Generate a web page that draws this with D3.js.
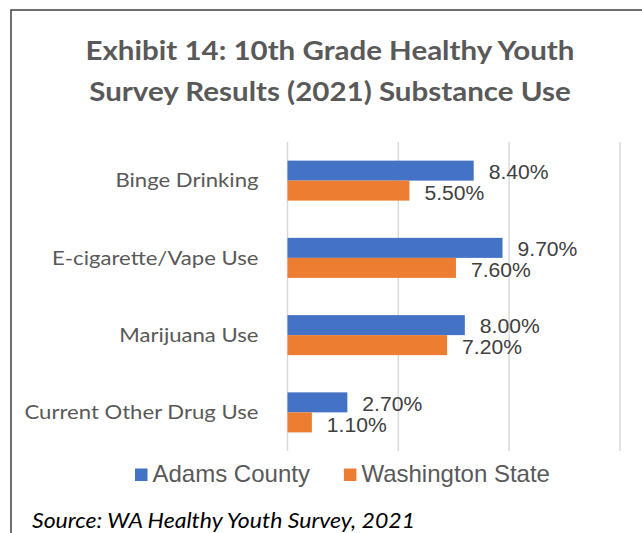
<!doctype html>
<html>
<head>
	<style>
		body{margin:0;background:#fff;}
		.cat{font-family:Lato,'Open Sans',sans-serif;font-size:19.5px;fill:#595959;}
		.val{font-family:'Liberation Sans',Arial,sans-serif;font-size:20.5px;fill:#404040;}
		.leg{font-family:'Liberation Sans',Arial,sans-serif;font-size:24px;fill:#595959;}
		.title{font-family:Lato,'Open Sans',sans-serif;font-size:26px;font-weight:bold;fill:#595959;}
		.src{font-family:Lato,'Open Sans',sans-serif;font-size:21px;font-style:italic;fill:#000;}
	</style>
</head>
<body>
	<div id="root"></div>
	<script src="https://d3js.org/d3.v7.min.js"></script>
	<script>

		var categories = ['Binge Drinking', 'E-cigarette/Vape Use', 'Marijuana Use', 'Current Other Drug Use'];
		var series = ['Adams County', 'Washington State'];
		var adams = [8.4, 9.7, 8.0, 2.7];
		var washington = [5.5, 7.6, 7.2, 1.1];
		var xTicks = [0, 5, 10, 15];
		var titleLines = ['Exhibit 14: 10th Grade Healthy Youth', 'Survey Results (2021) Substance Use'];
		var source = 'Source: WA Healthy Youth Survey, 2021';

		var W = 642, H = 533;
		var COLORS = ['#4472C4', '#ED7D31'];

		// make the narrow-ish fonts as wide as in the picture
		function stretch(sel, sx) {
			sel.each(function(){
				var w = this.getComputedTextLength();
				d3.select(this).attr('textLength', w * sx).attr('lengthAdjust', 'spacingAndGlyphs');
			});
		}

		var svg = d3.select('#root').append('svg')
			.attr('width', W)
			.attr('height', H);

		// chart frame (left + top edges visible)
		svg.append('path')
			.attr('d', 'M11,' + (H + 2) + 'V10H' + (W + 2))
			.attr('fill', 'none')
			.attr('stroke', '#404040')
			.attr('stroke-width', 1.5);

		var x = d3.scaleLinear()
			.domain([0, 15])
			.range([287.5, 620]);

		var y = d3.scaleBand()
			.domain(categories)
			.range([142, 451])
			.paddingInner(0.482)
			.paddingOuter(0.241);

		var ySub = d3.scaleBand()
			.domain(series)
			.range([0, y.bandwidth()]);

		// gridlines
		svg.append('g').selectAll('line')
			.data(xTicks)
			.enter().append('line')
				.attr('x1', x).attr('x2', x)
				.attr('y1', 142).attr('y2', 451)
				.attr('stroke', '#d9d9d9')
				.attr('stroke-width', 1.5);

		var rows = categories.map(function(c, i){
			return [{cat: c, s: series[0], v: adams[i], k: 0}, {cat: c, s: series[1], v: washington[i], k: 1}];
		});
		var flat = d3.merge(rows);

		var bars = svg.append('g').selectAll('g')
			.data(flat)
			.enter().append('g')
				.attr('transform', function(d){ return 'translate(0,' + (y(d.cat) + ySub(d.s)) + ')'; });

		bars.append('rect')
			.attr('x', x(0))
			.attr('width', function(d){ return x(d.v) - x(0); })
			.attr('height', ySub.bandwidth())
			.attr('fill', function(d){ return COLORS[d.k]; });

		var vals = bars.append('text')
			.attr('class', 'val')
			.attr('x', function(d){ return x(d.v) + 15; })
			.attr('y', function(d){ return ySub.bandwidth() / 2 + (d.k ? 2 : 1); })
			.attr('dy', '.35em')
			.text(function(d){ return d3.format('.2f')(d.v) + '%'; });
		stretch(vals, 1.03);

		// category labels
		var cats = svg.append('g').selectAll('text')
			.data(categories)
			.enter().append('text')
				.attr('class', 'cat')
				.attr('x', 258.5)
				.attr('y', function(d){ return y(d) + y.bandwidth() / 2; })
				.attr('dy', '.35em')
				.attr('text-anchor', 'end')
				.text(function(d){ return d; });
		stretch(cats, 1.134);

		// title
		var title = svg.append('g').selectAll('text')
			.data(titleLines)
			.enter().append('text')
				.attr('class', 'title')
				.attr('x', 330)
				.attr('y', function(d, i){ return 60 + i * 41; })
				.attr('text-anchor', 'middle')
				.text(function(d){ return d; });
		stretch(title, 1.135);

		// legend
		var leg = svg.append('g');
		var lx = 135;
		series.forEach(function(s, i){
			leg.append('rect')
				.attr('x', lx).attr('y', 468.5)
				.attr('width', 12.5).attr('height', 12.5)
				.attr('fill', COLORS[i]);
			var t = leg.append('text')
				.attr('class', 'leg')
				.attr('x', lx + 17.5)
				.attr('y', 481.5)
				.text(s);
			lx += 17.5 + t.node().getComputedTextLength() + 34;
		});

		var src = svg.append('text')
			.attr('class', 'src')
			.attr('x', 32)
			.attr('y', 528.3)
			.text(source);
		stretch(src, 1.097);

	</script>
</body>
</html>
